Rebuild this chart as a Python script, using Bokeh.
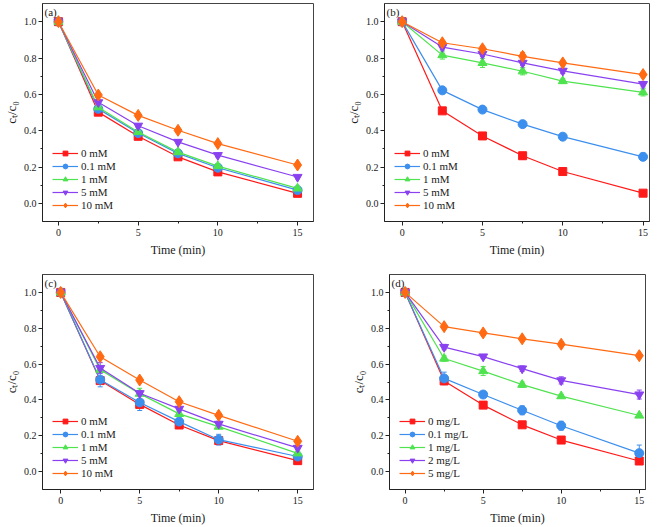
from bokeh.plotting import figure
from bokeh.layouts import column, row
from bokeh.models import (ColumnDataSource, Whisker, TeeHead, FixedTicker,
                          PrintfTickFormatter, Label, Range1d)
from bokeh.embed import file_html
from bokeh.resources import INLINE

# ---------------- data ----------------
time = [0, 2.5, 5, 7.5, 10, 15]

labels_mM = ["0 mM", "0.1 mM", "1 mM", "5 mM", "10 mM"]
labels_mgL = ["0 mg/L", "0.1 mg/L", "1 mg/L", "2 mg/L", "5 mg/L"]

# panel (a)
a_0 = [1.0, 0.502, 0.369, 0.256, 0.173, 0.055]
a_01 = [1.0, 0.520, 0.387, 0.275, 0.196, 0.073]
a_1 = [1.0, 0.529, 0.393, 0.282, 0.205, 0.082]
a_5 = [1.0, 0.556, 0.427, 0.338, 0.265, 0.145]
a_10 = [1.0, 0.596, 0.484, 0.402, 0.329, 0.211]
a_err = [0.0, 0.01, 0.01, 0.01, 0.01, 0.01]

# panel (b)
b_0 = [1.0, 0.509, 0.371, 0.262, 0.175, 0.056]
b_01 = [1.0, 0.622, 0.516, 0.436, 0.367, 0.256]
b_1 = [1.0, 0.816, 0.773, 0.727, 0.673, 0.611]
b_5 = [1.0, 0.860, 0.822, 0.773, 0.729, 0.656]
b_10 = [1.0, 0.884, 0.851, 0.809, 0.773, 0.709]
b_e0 = [0.0, 0.01, 0.01, 0.018, 0.01, 0.01]
b_e01 = [0.0, 0.01, 0.01, 0.018, 0.012, 0.02]
b_e1 = [0.0, 0.022, 0.025, 0.02, 0.012, 0.02]
b_e5 = [0.0, 0.015, 0.015, 0.015, 0.015, 0.015]
b_e10 = [0.0, 0.012, 0.012, 0.022, 0.012, 0.012]

# panel (c)
c_0 = [1.0, 0.508, 0.375, 0.260, 0.173, 0.061]
c_01 = [1.0, 0.513, 0.386, 0.279, 0.178, 0.084]
c_1 = [1.0, 0.569, 0.435, 0.322, 0.251, 0.102]
c_5 = [1.0, 0.578, 0.437, 0.350, 0.266, 0.132]
c_10 = [1.0, 0.641, 0.511, 0.390, 0.314, 0.169]
c_e0 = [0.0, 0.012, 0.012, 0.012, 0.01, 0.01]
c_e01 = [0.0, 0.04, 0.045, 0.015, 0.03, 0.01]
c_e1 = [0.0, 0.015, 0.03, 0.015, 0.01, 0.01]
c_e5 = [0.0, 0.03, 0.015, 0.012, 0.015, 0.01]
c_e10 = [0.0, 0.01, 0.01, 0.01, 0.01, 0.01]

# panel (d)
d_0 = [1.0, 0.506, 0.371, 0.261, 0.176, 0.059]
d_01 = [1.0, 0.520, 0.430, 0.342, 0.256, 0.103]
d_1 = [1.0, 0.631, 0.561, 0.485, 0.421, 0.313]
d_2 = [1.0, 0.695, 0.642, 0.575, 0.509, 0.430]
d_5 = [1.0, 0.809, 0.774, 0.741, 0.711, 0.647]
d_e0 = [0.0, 0.012, 0.01, 0.015, 0.01, 0.01]
d_e01 = [0.0, 0.035, 0.015, 0.025, 0.025, 0.045]
d_e1 = [0.0, 0.015, 0.025, 0.015, 0.01, 0.01]
d_e2 = [0.0, 0.015, 0.01, 0.015, 0.02, 0.025]
d_e5 = [0.0, 0.01, 0.01, 0.01, 0.01, 0.01]

# ---------------- style ----------------
colors = ["#FF1A1A", "#3D8FEE", "#4FE34F", "#8A42F0", "#FF6A12"]
markers = ["square", "circle", "triangle", "inverted_triangle", "diamond"]
msizes = [8, 9, 9, 9, 12]
FONT = "Liberation Serif"
TXT = "#1a1a1a"


def make_panel(tag, series, errs, labels, w, h, xr, bl, br, bt, bb):
    p = figure(width=w, height=h, output_backend="svg", toolbar_location=None,
               x_range=Range1d(*xr), y_range=Range1d(-0.1, 1.1),
               min_border_left=bl, min_border_right=br,
               min_border_top=bt, min_border_bottom=bb)
    p.xgrid.visible = False
    p.ygrid.visible = False
    p.outline_line_color = "#444444"
    p.outline_line_width = 1
    p.background_fill_color = "white"
    p.border_fill_color = "white"

    for ys, es, lab, col, mk, ms in zip(series, errs, labels, colors, markers, msizes):
        src = ColumnDataSource(dict(
            x=time, y=ys,
            upper=[v + e for v, e in zip(ys, es)],
            lower=[v - e for v, e in zip(ys, es)]))
        wk = Whisker(source=src, base="x", upper="upper", lower="lower",
                     line_color=col, line_width=1,
                     upper_head=TeeHead(size=5, line_color=col, line_width=1),
                     lower_head=TeeHead(size=5, line_color=col, line_width=1))
        p.add_layout(wk)
        p.line("x", "y", source=src, line_color=col, line_width=1.2, legend_label=lab)
        p.scatter("x", "y", source=src, marker=mk, size=ms, fill_color=col,
                  line_color=col, legend_label=lab)

    for ax in (p.xaxis[0], p.yaxis[0]):
        ax.axis_line_color = "#222222"
        ax.major_tick_line_color = "#222222"
        ax.minor_tick_line_color = "#222222"
        ax.major_tick_in = 0
        ax.major_tick_out = 4
        ax.minor_tick_in = 0
        ax.minor_tick_out = 2
        ax.major_label_text_font = FONT
        ax.major_label_text_font_size = "10px"
        ax.major_label_text_color = TXT
        ax.axis_label_text_font = FONT
        ax.axis_label_text_font_size = "12px"
        ax.axis_label_text_font_style = "normal"
        ax.axis_label_text_color = TXT
        ax.major_label_standoff = 3
        ax.axis_label_standoff = 4
    p.yaxis.major_label_standoff = 2
    p.yaxis.axis_label_standoff = 2
    p.yaxis.axis_label_text_font_size = "13px"

    p.xaxis.ticker = FixedTicker(ticks=[0, 5, 10, 15], minor_ticks=[2.5, 7.5, 12.5])
    p.yaxis.ticker = FixedTicker(ticks=[0.0, 0.2, 0.4, 0.6, 0.8, 1.0],
                                 minor_ticks=[0.1, 0.3, 0.5, 0.7, 0.9])
    p.yaxis.formatter = PrintfTickFormatter(format="%.1f")
    p.xaxis.axis_label = "Time (min)"
    p.yaxis.axis_label = "cₜ/c₀"

    lg = p.legend[0]
    lg.location = "bottom_left"
    lg.border_line_color = None
    lg.background_fill_alpha = 0
    lg.label_text_font = FONT
    lg.label_text_font_size = "11px"
    lg.label_text_color = TXT
    lg.glyph_width = 26
    lg.glyph_height = 12
    lg.label_height = 12
    lg.label_standoff = 3
    lg.spacing = 1
    lg.padding = 0
    lg.margin = 10

    p.add_layout(Label(x=xr[0], y=1.1, text=tag, x_offset=2, y_offset=-2,
                       text_baseline="top", text_font=FONT,
                       text_font_size="11px", text_color=TXT))
    return p


pa = make_panel("(a)", [a_0, a_01, a_1, a_5, a_10], [a_err] * 5, labels_mM,
                330, 260, (-1.0, 16.0), 39, 17, 3, 37)
pb = make_panel("(b)", [b_0, b_01, b_1, b_5, b_10],
                [b_e0, b_e01, b_e1, b_e5, b_e10], labels_mM,
                331, 260, (-1.1, 15.4), 54, 12, 3, 39)
pc = make_panel("(c)", [c_0, c_01, c_1, c_5, c_10],
                [c_e0, c_e01, c_e1, c_e5, c_e10], labels_mM,
                330, 267, (-1.15, 16.0), 36, 17, 13, 38)
pd = make_panel("(d)", [d_0, d_01, d_1, d_2, d_5],
                [d_e0, d_e01, d_e1, d_e2, d_e5], labels_mgL,
                331, 267, (-1.0, 15.4), 59, 16, 14, 36)

layout = column(row(pa, pb, spacing=0), row(pc, pd, spacing=0), spacing=0)

open("out.html", "w").write(file_html(layout, INLINE))
